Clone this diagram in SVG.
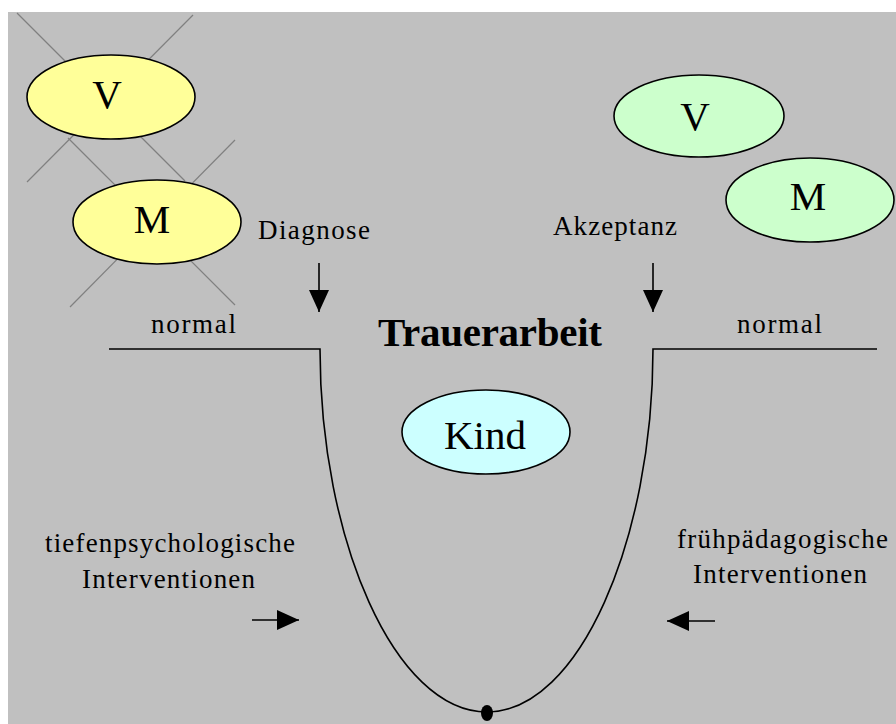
<svg xmlns="http://www.w3.org/2000/svg" width="896" height="724" viewBox="0 0 896 724">
<style>
.t{font-family:"Liberation Serif","Times New Roman",serif;fill:#000}
.lbl{font-size:27px}
.big{font-size:41px}
.node ellipse{stroke:#000;stroke-width:1.6}
.cross{stroke:#808080;stroke-width:1.2}
.ln{stroke:#000;stroke-width:1.6;fill:none}
</style>
<defs>
<marker id="ah" markerUnits="userSpaceOnUse" markerWidth="22" markerHeight="20" refX="22" refY="10" orient="auto">
<path d="M0,0 L22,10 L0,20 z" fill="#000"/>
</marker>
</defs>
<rect x="0" y="0" width="896" height="724" fill="#fff"/>
<rect x="8" y="12" width="888" height="712" fill="#C0C0C0"/>
<g id="crosses" class="cross">
<line x1="17" y1="13" x2="185" y2="181"/>
<line x1="193" y1="15" x2="27" y2="182"/>
<line x1="68" y1="138" x2="235" y2="305"/>
<line x1="70" y1="307" x2="235" y2="140"/>
</g>
<g id="node-v-left" class="node">
<ellipse cx="111" cy="97" rx="84" ry="42" fill="#FFFF99"/>
<text class="t big" x="107" y="108" text-anchor="middle">V</text>
</g>
<g id="node-m-left" class="node">
<ellipse cx="157" cy="222" rx="84" ry="42" fill="#FFFF99"/>
<text class="t big" x="152" y="233" text-anchor="middle">M</text>
</g>
<g id="node-v-right" class="node">
<ellipse cx="699" cy="116" rx="85" ry="41" fill="#CCFFCC"/>
<text class="t big" x="695" y="130" text-anchor="middle">V</text>
</g>
<g id="node-m-right" class="node">
<ellipse cx="810" cy="200" rx="84" ry="42" fill="#CCFFCC"/>
<text class="t big" x="808" y="210" text-anchor="middle">M</text>
</g>
<g id="node-kind" class="node">
<ellipse cx="486" cy="432" rx="84" ry="42" fill="#CCFFFF"/>
<text class="t big" x="485" y="449" text-anchor="middle">Kind</text>
</g>
<g id="connectors">
<path class="ln" d="M109,349 H320 C320,540 395,712 487,712 C579,712 653,540 653,349 H877"/>
<ellipse cx="487" cy="713" rx="6" ry="8" fill="#000"/>
<line class="ln" x1="319" y1="263" x2="319" y2="312" marker-end="url(#ah)"/>
<line class="ln" x1="653" y1="263" x2="653" y2="312" marker-end="url(#ah)"/>
<line class="ln" x1="252" y1="620" x2="299" y2="620" marker-end="url(#ah)"/>
<line class="ln" x1="715" y1="621" x2="667" y2="621" marker-end="url(#ah)"/>
</g>
<g id="labels">
<text class="t lbl" x="258" y="239" textLength="112">Diagnose</text>
<text class="t lbl" x="553" y="235" textLength="124">Akzeptanz</text>
<text class="t" x="378" y="346" font-size="41" font-weight="bold" textLength="224">Trauerarbeit</text>
<text class="t lbl" x="151" y="333" textLength="85">normal</text>
<text class="t lbl" x="737" y="333" textLength="85">normal</text>
<text class="t lbl" x="45" y="552" textLength="250">tiefenpsychologische</text>
<text class="t lbl" x="82" y="588" textLength="173">Interventionen</text>
<text class="t lbl" x="677" y="548" textLength="211">frühpädagogische</text>
<text class="t lbl" x="693" y="583" textLength="174">Interventionen</text>
</g>
</svg>
